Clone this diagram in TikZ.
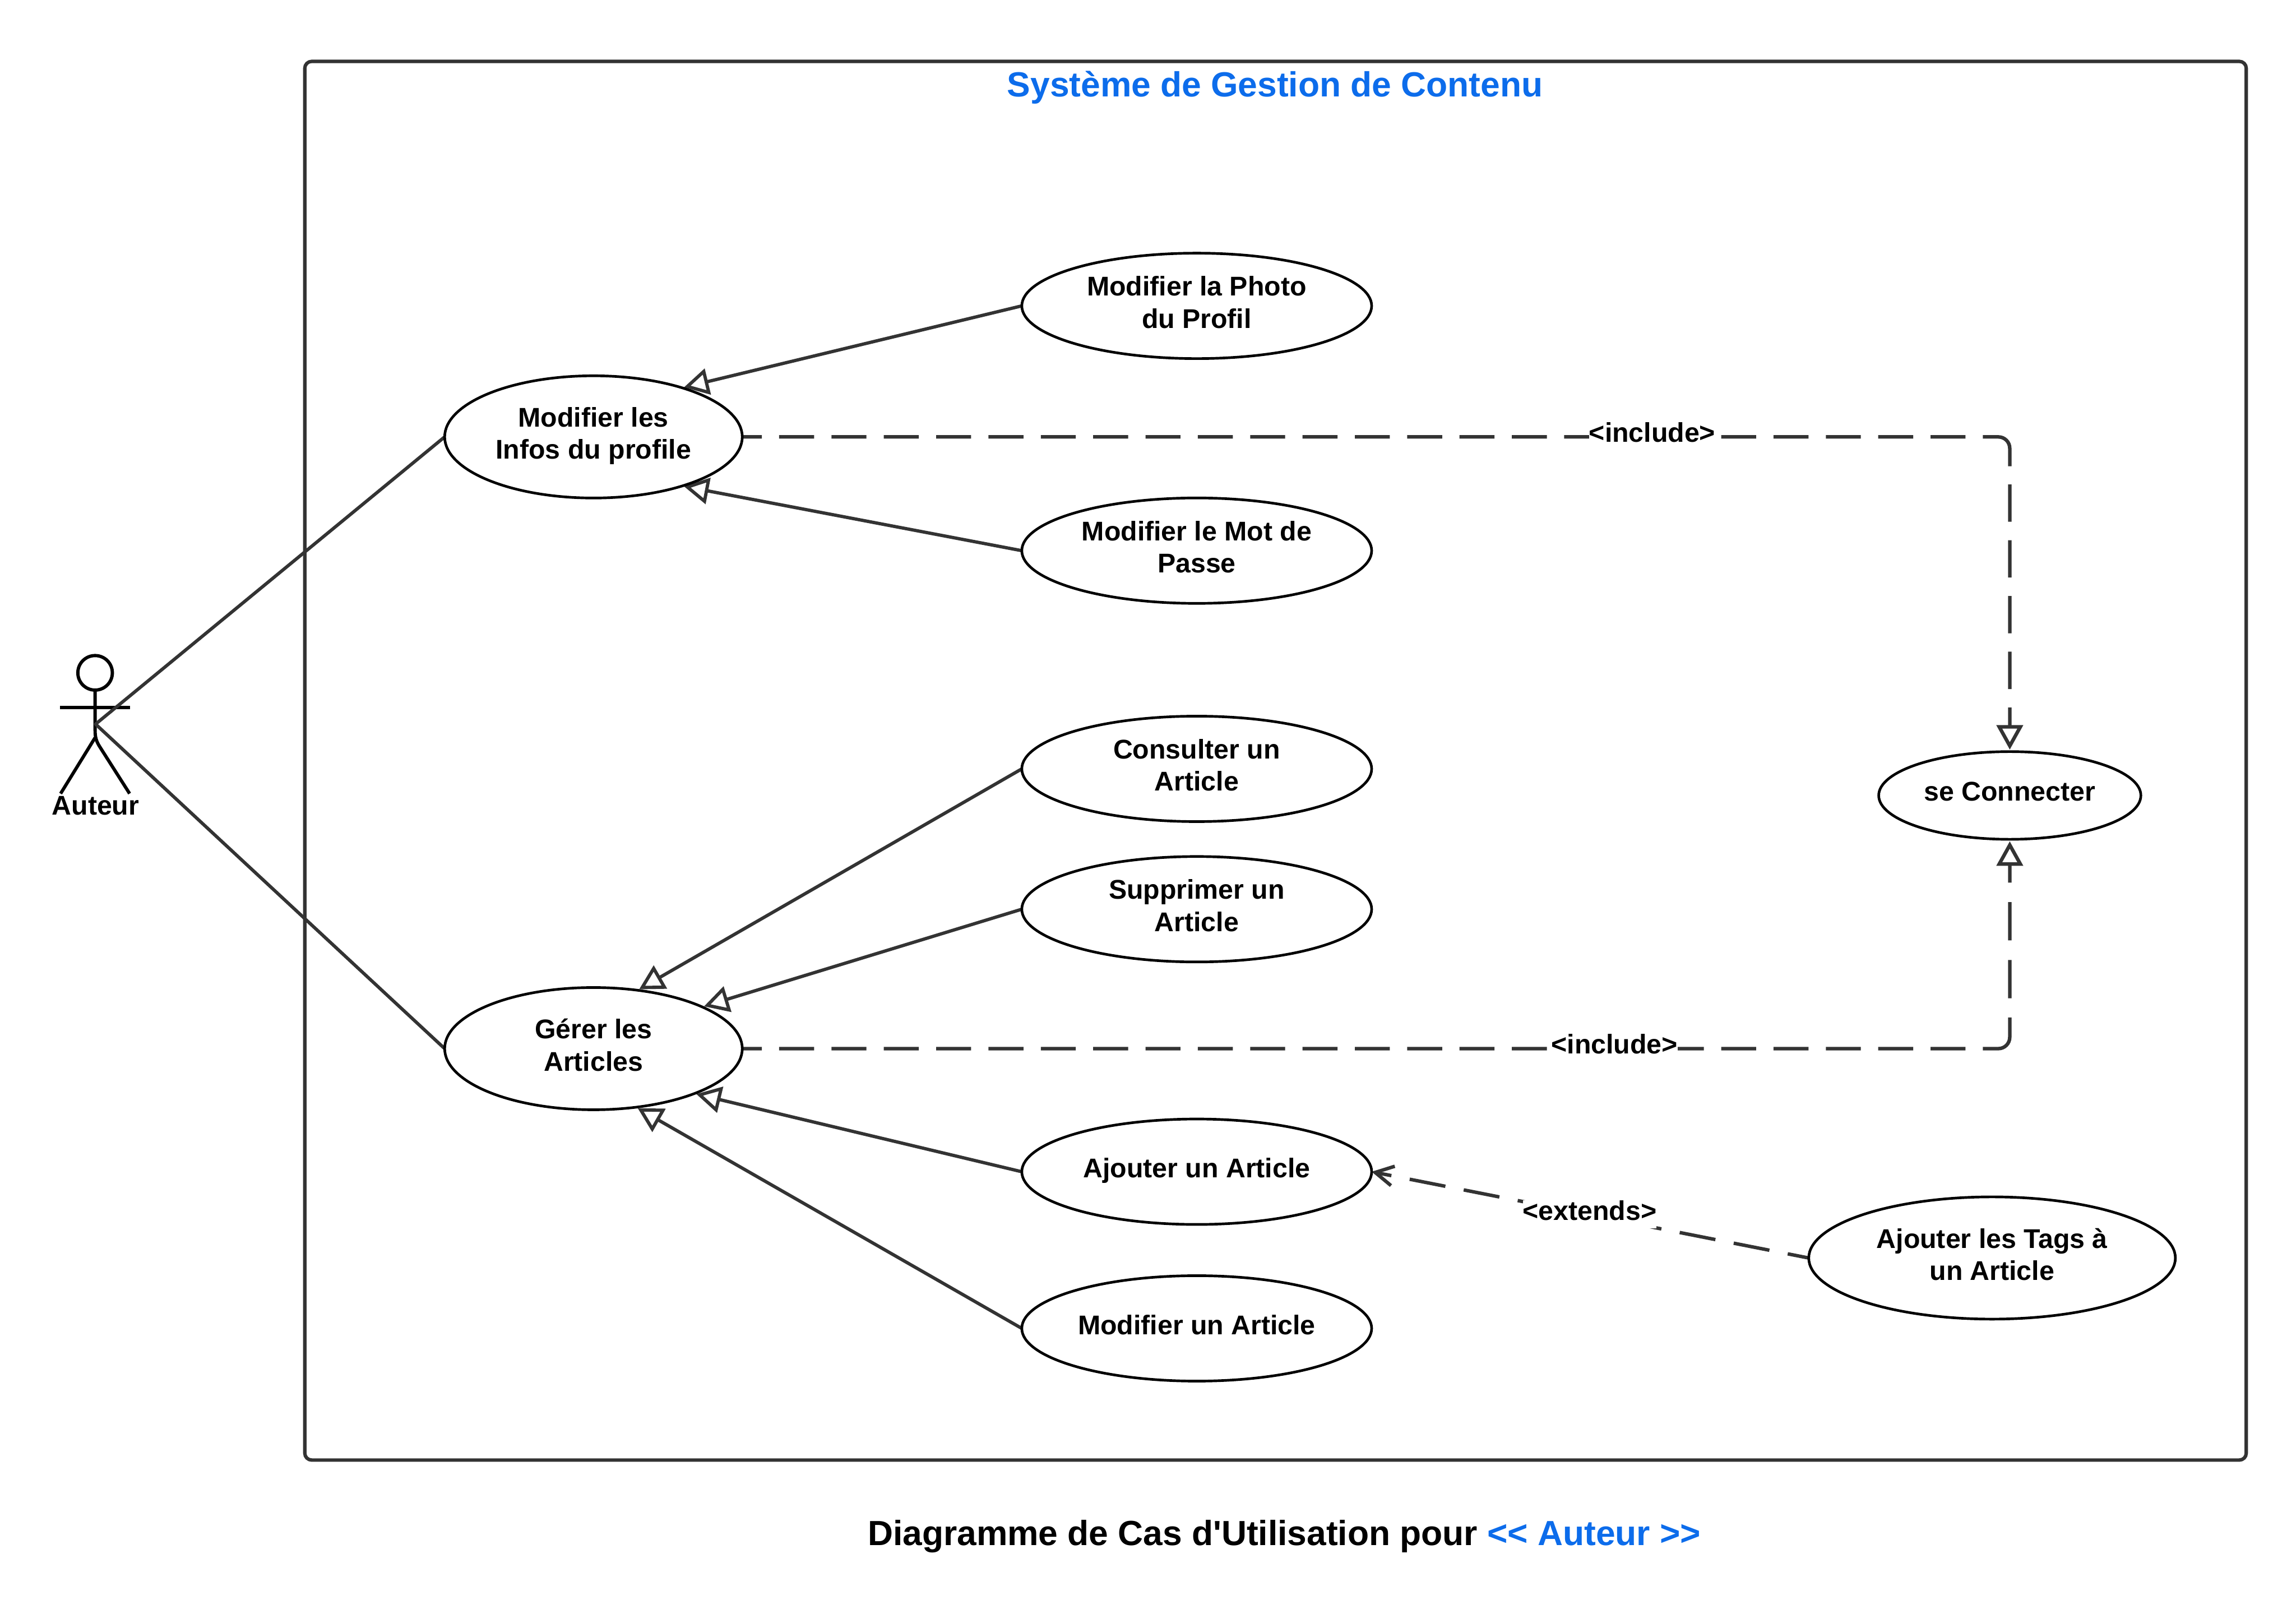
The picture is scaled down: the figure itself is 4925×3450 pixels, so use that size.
\documentclass[tikz,border=0pt]{standalone}
\usepackage{fontspec}
\setmainfont[Ligatures=TeXOff]{Liberation Sans}
\usetikzlibrary{shapes.geometric,arrows.meta,backgrounds}
\definecolor{linegrey}{HTML}{333333}
\definecolor{titleblue}{HTML}{0C6CEB}
\tikzset{
  uc/.style={ellipse,draw=black,line width=1.6pt,fill=white,inner sep=0pt,outer sep=0pt,align=center,text=black,
    text depth=4.6pt,font=\fontsize{16.5}{19.63}\selectfont\bfseries},
  ucbig/.style={uc,minimum width=6.38cm,minimum height=2.62cm},
  ucmid/.style={uc,minimum width=7.5cm,minimum height=2.26cm},
  frameline/.style={draw=linegrey,line width=2.1pt,rounded corners=4.2pt,inner sep=0pt,outer sep=0pt},
  titletext/.style={inner sep=0pt,font=\fontsize{21.3}{25}\selectfont\bfseries},
  assoc/.style={draw=linegrey,line width=2pt,line cap=round},
  gen/.style={draw=linegrey,line width=2pt,shorten >=1.2pt,-{Triangle[length=15pt,width=16pt,fill=white]}},
  incl/.style={draw=linegrey,line width=2.15pt,shorten >=1.2pt,
    rounded corners=7pt,-{Triangle[length=15pt,width=16pt,fill=white]}},
  extd/.style={draw=linegrey,line width=2.1pt,dash pattern=on 0.78cm off 0.40cm,dash phase=0.32cm,
    -{Straight Barb[length=11pt,width=12pt]}},
  edgelabel/.style={fill=white,inner sep=0pt,anchor=base,text height=12pt,text depth=5pt,
    font=\fontsize{16.5}{19.63}\selectfont\bfseries},
  actorline/.style={draw=black,line width=2pt},
  actortext/.style={inner sep=0pt,anchor=base,font=\fontsize{16.5}{19.63}\selectfont\bfseries},
}
\begin{document}
\begin{tikzpicture}[x=0.01cm,y=-0.01cm]
% use cases
\node[frameline,minimum width=41.62cm,minimum height=29.98cm] (system) at (2736,1631.5) {};
\node[titletext,text=titleblue] (title) at (2735,188) {Système de Gestion de Contenu};

\node[ucbig] (infos) at (1273,937) {Modifier les\\Infos du profile};
\node[ucbig] (gerer) at (1273,2249) {Gérer les\\Articles};
\node[ucmid] (photo) at (2567,656) {Modifier la Photo\\du Profil};
\node[ucmid] (passe) at (2567,1181) {Modifier le Mot de\\Passe};
\node[ucmid] (consulter) at (2567,1649) {Consulter un\\Article};
\node[ucmid] (supprimer) at (2567,1950) {Supprimer un\\Article};
\node[ucmid] (ajouter) at (2567,2513) {Ajouter un Article};
\node[ucmid] (modifier) at (2567,2849) {Modifier un Article};
\node[uc,minimum width=5.62cm,minimum height=1.88cm] (connecter) at (4311,1706) {se Connecter};
\node[uc,minimum width=7.86cm,minimum height=2.62cm] (tags) at (4273,2698) {Ajouter les Tags à\\un Article};

% connector labels
\node[edgelabel] (inclA) at (3544,948) {<include>};
\node[edgelabel] (inclB) at (3463,2260) {<include>};
\node[edgelabel] (extA) at (3410,2617) {<extends>};

\coordinate (actor) at (205,1553);
\node[actortext] (auteur) at (205,1748) {Auteur};

\node[titletext,anchor=center] (caption) at (2755,3295) {Diagramme de Cas d'Utilisation pour \textcolor{titleblue}{<< Auteur >>}};

\begin{scope}[on background layer]
  \path[use as bounding box,fill=white] (0,0) rectangle (4925,3450);
  % actor
  \draw[actorline] (204,1443) circle (0.37cm);
  \draw[actorline] (129,1517) -- (279,1517);
  \draw[actorline] (204,1480) -- (204,1567) .. controls (204,1582) and (207,1590) .. (213,1600) -- (278,1702);
  \draw[actorline] (204,1582) -- (130,1702);
  % associations
  \draw[assoc] (actor) -- (infos.west);
  \draw[assoc] (actor) -- (gerer.west);
  % generalisations
  \draw[gen] (photo.west) -- (infos.29);
  \draw[gen] (passe.west) -- (infos.-29.7);
  \draw[gen] (consulter.west) -- (gerer.53.6);
  \draw[gen] (supprimer.west) -- (gerer.21.7);
  \draw[gen] (ajouter.west) -- (gerer.-24.2);
  \draw[gen] (modifier.west) -- (gerer.-54.8);
  % include and extend
  \draw[incl,dash pattern=on .42cm off .37cm
    on .75cm off .372cm on .75cm off .372cm on .75cm off .372cm on .75cm off .372cm on .75cm off .372cm
    on .75cm off .372cm on .75cm off .372cm on .75cm off .372cm on .75cm off .372cm on .75cm off .372cm
    on .75cm off .372cm on .75cm off .372cm on .75cm off .372cm on .75cm off .372cm on .75cm off .372cm
    on .75cm off .372cm on .75cm off .372cm on .75cm off .372cm on .75cm off .372cm on .75cm off .372cm
    on .75cm off .372cm on .75cm off .372cm on .75cm off .372cm
    on 1.10cm off .39cm on .80cm off .395cm on .80cm off .395cm on .80cm off .395cm on .80cm off .395cm
    on 3cm off .1cm] (infos.east) -| (connecter.north);
  \draw[incl,dash pattern=on .42cm off .37cm
    on .75cm off .372cm on .75cm off .372cm on .75cm off .372cm on .75cm off .372cm on .75cm off .372cm
    on .75cm off .372cm on .75cm off .372cm on .75cm off .372cm on .75cm off .372cm on .75cm off .372cm
    on .75cm off .372cm on .75cm off .372cm on .75cm off .372cm on .75cm off .372cm on .75cm off .372cm
    on .75cm off .372cm on .75cm off .372cm on .75cm off .372cm on .75cm off .372cm on .75cm off .372cm
    on .75cm off .372cm on .75cm off .372cm on .75cm off .372cm
    on 1.14cm off .41cm on .82cm off .42cm on .82cm off .42cm
    on 3cm off .1cm] (gerer.east) -| (connecter.south);
  \draw[extd] (tags.west) -- (ajouter.east);
\end{scope}
\end{tikzpicture}
\end{document}
